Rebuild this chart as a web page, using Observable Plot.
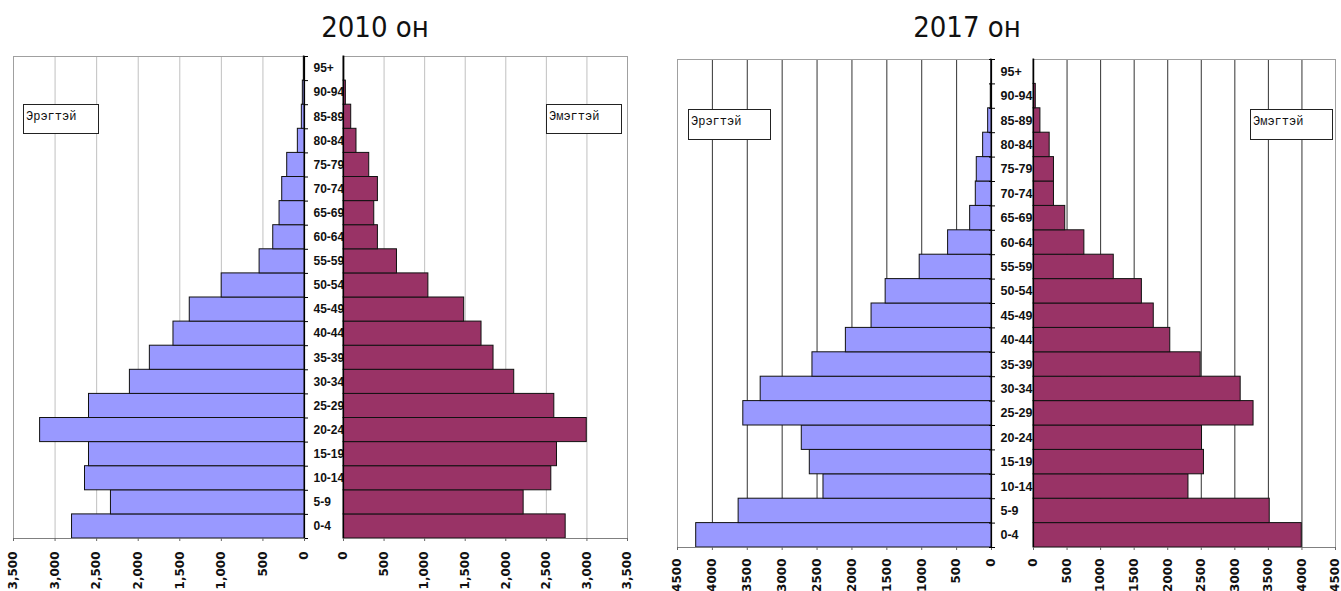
<!DOCTYPE html>
<html>
<head>
<meta charset="utf-8">
<script src="https://cdn.jsdelivr.net/npm/d3@7"></script>
<script src="https://cdn.jsdelivr.net/npm/@observablehq/plot@0.6"></script>
<style>
  html, body { margin: 0; padding: 0; background: white; overflow: hidden; }
  #root { position: relative; width: 1341px; height: 591px; overflow: hidden; background: white; }
  .title { position: absolute; font-family: "DejaVu Sans Condensed", "DejaVu Sans", sans-serif; font-size: 29px; color: #111; white-space: nowrap; transform: translateX(-50%); line-height: 1; }
  .legend { position: absolute; box-sizing: border-box; border: 1px solid #222; background: white; font-family: "Liberation Mono", "DejaVu Sans Mono", monospace; font-size: 12px; padding: 6px 2px; line-height: 12px; color: #111; }
  #root svg { position: absolute; left: 0; top: 0; }
</style>
</head>
<body>
<div id="root"></div>
<script>
// ---- data ----
const ages = ["0-4","5-9","10-14","15-19","20-24","25-29","30-34","35-39","40-44","45-49","50-54","55-59","60-64","65-69","70-74","75-79","80-84","85-89","90-94","95+"];
const male2010   = [2796, 2328, 2640, 2592, 3180, 2592, 2100, 1860, 1576, 1380, 996, 540, 376, 300, 268, 208, 80, 32, 20, 8];
const female2010 = [2738, 2220, 2561, 2631, 2998, 2598, 2104, 1849, 1701, 1487, 1046, 659, 424, 379, 424, 317, 160, 95, 29, 10];
const male2017   = [4232, 3624, 2408, 2604, 2719, 3557, 3308, 2566, 2087, 1719, 1517, 1029, 622, 306, 225, 211, 120, 48, 10, 4];
const female2017 = [3997, 3520, 2309, 2540, 2511, 3279, 3087, 2491, 2038, 1792, 1615, 1196, 758, 473, 305, 305, 241, 103, 34, 10];
const ticks2010 = [0, 500, 1000, 1500, 2000, 2500, 3000, 3500];
const ticks2017 = [0, 500, 1000, 1500, 2000, 2500, 3000, 3500, 4000, 4500];
const titles = ["2010 он", "2017 он"];
const sexLabels = ["Эрэгтэй", "Эмэгтэй"];

const W = 1341, H = 591;
const root = document.getElementById("root");

function panel({values, male, max, ticks, fmt, grid, x0, x1, y0, y1, bothTicks, ageSize, padBottom}) {
  const data = values.map((v, i) => ({age: ages[i], i, v}));
  const n = ages.length;
  const marks = [
    Plot.ruleX(ticks.filter(t => t !== 0 && t !== max), {y1: 0, y2: n, stroke: grid, strokeWidth: 1}),
    Plot.ruleX([max], {y1: 0, y2: n, stroke: "#a0a0a0"}),
    Plot.ruleY([n], {stroke: "#a0a0a0"}),
    Plot.rect(data, {x1: 0, x2: "v", y1: "i", y2: d => d.i + 1, fill: male ? "#9999ff" : "#993366", stroke: "#111", strokeWidth: 1}),
    Plot.ruleY([0], {stroke: "#808080"}),
    Plot.ruleX([0], {y1: 0, y2: n, stroke: "#000", strokeWidth: 1.2}),
    Plot.axisX(ticks, {
      anchor: "bottom", tickSize: 3, tickPadding: padBottom, tickRotate: -90, label: null,
      tickFormat: fmt, fontSize: 12, fontWeight: "bold", fontFamily: "DejaVu Sans", fill: "#111", stroke: "#666"
    })
  ];
  if (male) {
    marks.push(Plot.axisY(d3.range(n + 1), {
      anchor: "right", tickSize: bothTicks ? 6 : 3, dx: bothTicks ? -3 : 0, tickFormat: () => "", stroke: "#000", label: null
    }));
    marks.push(Plot.axisY(d3.range(n).map(i => i + 0.5), {
      anchor: "right", tickSize: 0, tickPadding: 9, textAnchor: "start", label: null,
      tickFormat: v => ages[Math.round(v - 0.5)], fontSize: ageSize, fontWeight: "bold",
      fontFamily: "Liberation Sans", fill: "#111"
    }));
  }
  const svg = Plot.plot({
    width: W, height: H,
    marginLeft: x0, marginRight: W - x1, marginTop: y0, marginBottom: H - y1,
    style: {background: "transparent", overflow: "visible"},
    x: {domain: [0, max], reverse: male, axis: null, label: null},
    y: {domain: [0, n], axis: null, label: null},
    marks
  });
  root.appendChild(svg);
}

const fmtComma = d3.format(",");
const fmtPlain = d3.format("d");

panel({values: male2010, male: true, max: 3500, ticks: ticks2010, fmt: fmtComma, grid: "#c0c0c0", x0: 13, x1: 304, y0: 56, y1: 538, ageSize: 12, padBottom: 10});
panel({values: female2010, male: false, max: 3500, ticks: ticks2010, fmt: fmtComma, grid: "#c0c0c0", x0: 343, x1: 627, y0: 56, y1: 538, ageSize: 12, padBottom: 10});
panel({values: male2017, male: true, max: 4500, ticks: ticks2017, fmt: fmtPlain, grid: "#333", x0: 677, x1: 991, y0: 59, y1: 547, bothTicks: true, ageSize: 12.5, padBottom: 8});
panel({values: female2017, male: false, max: 4500, ticks: ticks2017, fmt: fmtPlain, grid: "#333", x0: 1033, x1: 1335, y0: 59, y1: 547, ageSize: 12.5, padBottom: 8});

function addDiv(cls, text, css) {
  const d = document.createElement("div");
  d.className = cls;
  d.textContent = text;
  Object.assign(d.style, css);
  root.appendChild(d);
}
addDiv("title", titles[0], {left: "375px", top: "13px"});
addDiv("title", titles[1], {left: "967px", top: "13px"});
addDiv("legend", sexLabels[0], {left: "23px", top: "104px", width: "76px", height: "30px"});
addDiv("legend", sexLabels[1], {left: "546px", top: "104px", width: "76px", height: "30px"});
addDiv("legend", sexLabels[0], {left: "688px", top: "109px", width: "83px", height: "31px"});
addDiv("legend", sexLabels[1], {left: "1250px", top: "109px", width: "83px", height: "31px"});
</script>
</body>
</html>
